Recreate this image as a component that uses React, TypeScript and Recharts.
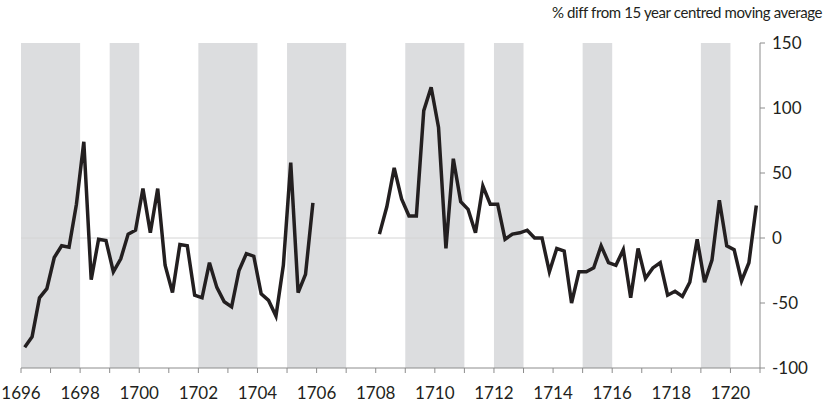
import { LineChart, Line, XAxis, YAxis, ReferenceArea, ReferenceLine } from 'recharts'

// quarterly readings, first quarter of 1696 onwards (null = no data)
const firstYear = 1696
const values: (number | null)[] = [
  -84, -76, -46, -39, -15, -6, -7, 26,
  74, -32, -1, -2, -26, -16, 3, 6,
  38, 4, 38, -21, -42, -5, -6, -44,
  -46, -19, -38, -49, -53, -25, -12, -14,
  -43, -48, -60, -21, 58, -42, -28, 27,
  null, null, null, null, null, null, null, null,
  3, 24, 54, 30, 17, 17, 98, 116,
  85, -8, 61, 28, 22, 4, 40, 26,
  26, -1, 3, 4, 6, 0, 0, -26,
  -8, -10, -50, -26, -26, -23, -6, -19,
  -21, -9, -46, -8, -31, -23, -19, -44,
  -41, -45, -34, -1, -34, -17, 29, -6,
  -9, -33, -19, 25,
]

const bandStarts = [1696, 1699, 1702, 1705, 1709, 1712, 1715, 1719]
const bandEnds = [1698, 1700, 1704, 1707, 1711, 1713, 1716, 1720]
const yearTicks = Array.from({ length: 26 }, (_, i) => 1696 + i)
const valueTicks = [-100, -50, 0, 50, 100, 150]

const data = values.map((v, i) => ({ x: firstYear + 0.125 + i * 0.25, v }))

const font = 'Lato, sans-serif'

export default function App() {
  return (
    <div style={{ position: 'absolute', left: 0, top: 0, width: 825, height: 405, background: '#fff' }}>
      <div
        style={{
          position: 'absolute',
          right: 3,
          top: 3,
          fontFamily: font,
          fontSize: 15,
          letterSpacing: -0.4,
          color: '#231f20',
          whiteSpace: 'nowrap',
        }}
      >
        % diff from 15 year centred moving average
      </div>
      <LineChart width={825} height={405} data={data} margin={{ top: 43, right: 0, left: 21, bottom: 0 }}>
        {bandStarts.map((s, i) => (
          <ReferenceArea key={s} x1={s} x2={bandEnds[i]} y1={-100} y2={150} fill="#dcdddf" fillOpacity={1} stroke="none" />
        ))}
        <ReferenceLine y={0} stroke="#d4d4d4" strokeWidth={1} />
        <XAxis
          dataKey="x"
          type="number"
          domain={[1696, 1721]}
          ticks={yearTicks}
          interval={0}
          height={37}
          tickFormatter={(t) => (t % 2 === 0 && t <= 1720 ? String(t) : '')}
          tick={{ fill: '#231f20', fontSize: 17, fontFamily: font }}
          axisLine={{ stroke: '#8c8c8c' }}
          tickLine={{ stroke: '#8c8c8c' }}
          tickSize={5}
          tickMargin={14}
        />
        <YAxis
          orientation="right"
          type="number"
          domain={[-100, 150]}
          ticks={valueTicks}
          width={65}
          tick={{ fill: '#231f20', fontSize: 17, fontFamily: font, textAnchor: 'start' }}
          axisLine={{ stroke: '#8c8c8c' }}
          tickLine={{ stroke: '#8c8c8c' }}
          tickSize={5}
          tickMargin={7}
        />
        <Line
          dataKey="v"
          type="linear"
          stroke="#231f20"
          strokeWidth={3.5}
          dot={false}
          connectNulls={false}
          isAnimationActive={false}
          strokeLinejoin="miter"
        />
      </LineChart>
    </div>
  )
}
